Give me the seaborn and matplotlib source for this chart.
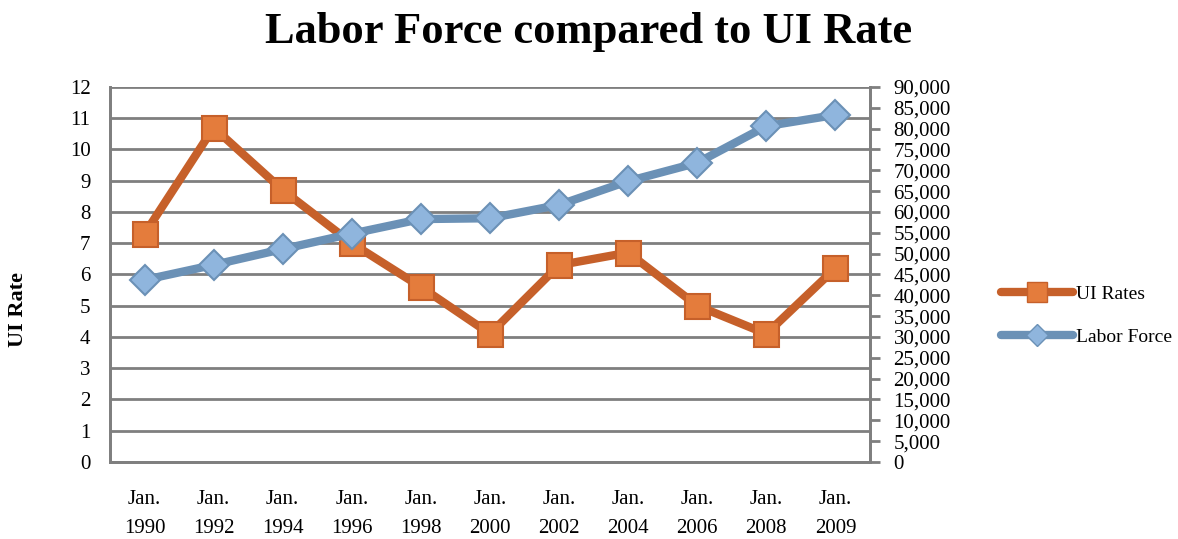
import matplotlib
matplotlib.use("Agg")
import matplotlib.pyplot as plt
import seaborn as sns
import pandas as pd
from matplotlib.ticker import FuncFormatter, MultipleLocator
from matplotlib.lines import Line2D

# Survey points and their values
periods = ["Jan.\n1990", "Jan.\n1992", "Jan.\n1994", "Jan.\n1996", "Jan.\n1998",
           "Jan.\n2000", "Jan.\n2002", "Jan.\n2004", "Jan.\n2006", "Jan.\n2008",
           "Jan.\n2009"]
ui_rates = [7.3, 10.7, 8.7, 7.0, 5.6, 4.1, 6.3, 6.7, 5.0, 4.1, 6.2]
labor_force = [43700, 47300, 51100, 54800, 58300, 58500, 61700, 67400, 71800, 80600, 83300]

df = pd.DataFrame({
    "pos": range(len(periods)),
    "period": periods,
    "ui": ui_rates,
    "labor": labor_force,
})

sns.set_style("white")
plt.rcParams["font.family"] = ["Liberation Serif", "DejaVu Serif"]
plt.rcParams["text.color"] = "black"
plt.rcParams["xtick.color"] = "black"
plt.rcParams["ytick.color"] = "black"

GRAY = "#7f7f7f"
ORANGE_LINE = "#c6602a"
ORANGE_FILL = "#e47c3c"
BLUE_LINE = "#6b91b6"
BLUE_FILL = "#8fb5dd"

fig = plt.figure(figsize=(11.78, 5.39), dpi=100)
ax = fig.add_axes([0.0934, 0.1429, 0.6451, 0.6957])
ax2 = ax.twinx()

sns.lineplot(data=df, x="pos", y="ui", ax=ax, color=ORANGE_LINE, linewidth=6,
             marker="s", markersize=18, markerfacecolor=ORANGE_FILL,
             markeredgecolor=ORANGE_LINE, markeredgewidth=1.5, zorder=3)
sns.lineplot(data=df, x="pos", y="labor", ax=ax2, color=BLUE_LINE, linewidth=6,
             marker="D", markersize=15, markerfacecolor=BLUE_FILL,
             markeredgecolor=BLUE_LINE, markeredgewidth=1.5, zorder=3)

ax.set_xlim(-0.5, len(periods) - 0.5)
ax.set_ylim(0, 12)
ax2.set_ylim(0, 90000)

ax.yaxis.set_major_locator(MultipleLocator(1))
ax2.yaxis.set_major_locator(MultipleLocator(5000))
ax2.yaxis.set_major_formatter(FuncFormatter(lambda v, p: f"{int(v):,}"))

ax.set_xticks(df["pos"])
ax.set_xticklabels(periods, fontsize=15, linespacing=1.7)
ax.tick_params(axis="x", length=0, pad=20, labelcolor="black")
ax.tick_params(axis="y", length=0, pad=14, labelsize=15, labelcolor="black")
ax2.tick_params(axis="y", length=7, width=2, color=GRAY, direction="out",
                pad=10, labelsize=15, labelcolor="black")

ax.grid(axis="y", color=GRAY, linewidth=2)
ax.set_axisbelow(True)
ax2.grid(False)

for a in (ax, ax2):
    for side in ("left", "right", "bottom"):
        a.spines[side].set_color(GRAY)
        a.spines[side].set_linewidth(2)
    a.spines["top"].set_visible(False)
ax.set_xlabel("")
ax.set_ylabel("")
ax2.set_ylabel("")

fig.text(0.015, 0.425, "UI Rate", rotation=90, fontsize=16, fontweight="bold",
         ha="center", va="center", color="black")
fig.text(0.5, 0.94, "Labor Force compared to UI Rate", fontsize=32,
         fontweight="bold", ha="center", va="center", color="black")

handles = [
    Line2D([], [], color=ORANGE_LINE, linewidth=6, marker="s", markersize=14,
           markerfacecolor=ORANGE_FILL, markeredgecolor=ORANGE_LINE,
           solid_capstyle="round"),
    Line2D([], [], color=BLUE_LINE, linewidth=6, marker="D", markersize=11,
           markerfacecolor=BLUE_FILL, markeredgecolor=BLUE_LINE,
           solid_capstyle="round"),
]
fig.legend(handles, ["UI Rates", "Labor Force"], loc="center left",
           bbox_to_anchor=(0.835, 0.414), frameon=False, fontsize=14,
           handlelength=3.7, handletextpad=0.15, labelspacing=1.3,
           labelcolor="black")

fig.savefig("out.png", dpi=100)
